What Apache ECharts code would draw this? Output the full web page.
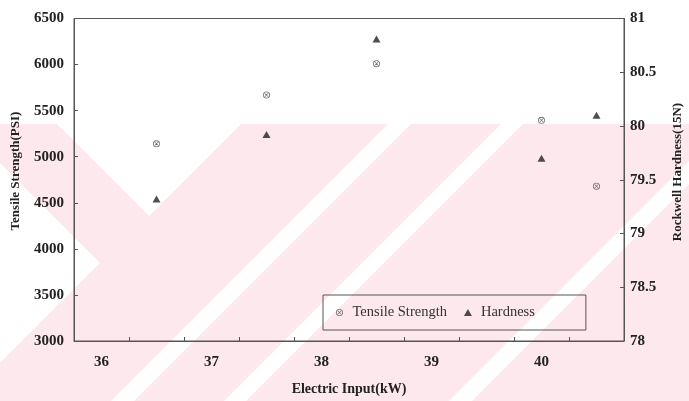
<!DOCTYPE html>
<html>
<head>
<meta charset="utf-8">
<script src="https://cdn.jsdelivr.net/npm/echarts@6/dist/echarts.min.js"></script>
<style>
  html, body { margin: 0; padding: 0; background: #fff; }
  #chart { width: 689px; height: 401px; }
</style>
</head>
<body>
<div id="chart"></div>
<script>
// Electric input (kW) for each weld sample
const kwInput = [36.5, 37.5, 38.5, 40.0, 40.5];
// Tensile strength (PSI), left axis
const tensileStrength = [5140, 5670, 6010, 5395, 4680];
// Rockwell hardness (15N), right axis
const hardness = [79.32, 79.92, 80.81, 79.70, 80.10];

// Axis ticks sit between the integer labels
const xTickValues = [36.25, 36.75, 37.25, 37.75, 38.25, 38.75, 39.25, 39.75, 40.25];
const xLabelValues = [36, 37, 38, 39, 40];

const serif = 'Liberation Serif, Times New Roman, serif';
const frameColor = '#555';
const textColor = '#222';
const pink = '#fde9ed';

// circle with an x inside
const crossCircle = 'path://M10,0 A10,10 0 1,1 9.99,0 Z M10,2.4 A7.6,7.6 0 1,0 10.01,2.4 Z ' +
  'M4.2,5.6 L5.6,4.2 L15.8,14.4 L14.4,15.8 Z M14.4,4.2 L15.8,5.6 L5.6,15.8 L4.2,14.4 Z';

// light background stripes
function band(a, b) {
  return [[a - 124, 124], [b - 124, 124], [b - 401, 401], [a - 401, 401]];
}
const bgShapes = [
  { type: 'rect', shape: { x: 0, y: 124, width: 689, height: 277 }, style: { fill: pink } },
  { type: 'polygon', shape: { points: [[57, 124], [241, 124], [149, 216]] }, style: { fill: '#fff' } },
  { type: 'polygon', shape: { points: [[0, 163], [100, 263], [0, 363]] }, style: { fill: '#fff' } },
  { type: 'polygon', shape: { points: band(512, 535) }, style: { fill: '#fff' } },
  { type: 'polygon', shape: { points: band(625, 647) }, style: { fill: '#fff' } },
  { type: 'polygon', shape: { points: band(850, 873) }, style: { fill: '#fff' } }
].map(s => Object.assign({ silent: true, z: -10 }, s));

const plainNumber = v => String(v);

const chart = echarts.init(document.getElementById('chart'), null, { renderer: 'canvas' });

chart.setOption({
  animation: false,
  backgroundColor: '#fff',
  grid: {
    left: 74, right: 65, top: 18.5, bottom: 55.5,
    show: true, borderColor: frameColor, borderWidth: 1, backgroundColor: 'transparent'
  },
  legend: {
    left: 323, top: 295,
    padding: [10, 51, 10, 13],
    borderColor: frameColor, borderWidth: 1,
    itemWidth: 8, itemHeight: 7, itemGap: 17,
    textStyle: { fontFamily: serif, fontSize: 14.5, color: '#333', padding: [0, 0, 0, 4] },
    data: ['Tensile Strength', 'Hardness']
  },
  xAxis: {
    type: 'value', min: 35.75, max: 40.75,
    name: 'Electric Input(kW)', nameLocation: 'middle', nameGap: 41,
    nameTextStyle: { fontFamily: serif, fontSize: 14, fontWeight: 'bold', color: textColor },
    axisLine: { show: true, lineStyle: { color: frameColor, width: 1 } },
    axisTick: { show: true, inside: true, length: 4, customValues: xTickValues, lineStyle: { color: frameColor } },
    axisLabel: { customValues: xLabelValues, margin: 14, formatter: plainNumber,
                 fontFamily: serif, fontSize: 15, fontWeight: 'bold', color: textColor },
    splitLine: { show: false }
  },
  yAxis: [
    {
      type: 'value', min: 3000, max: 6500, interval: 500, position: 'left',
      axisLine: { show: true, lineStyle: { color: frameColor, width: 1 } },
      axisTick: { show: true, inside: true, length: 4, lineStyle: { color: frameColor } },
      axisLabel: { margin: 10, formatter: plainNumber,
                   fontFamily: serif, fontSize: 15, fontWeight: 'bold', color: textColor },
      splitLine: { show: false }
    },
    {
      type: 'value', min: 78, max: 81, interval: 0.5, position: 'right',
      axisLine: { show: true, lineStyle: { color: frameColor, width: 1 } },
      axisTick: { show: true, inside: true, length: 4, lineStyle: { color: frameColor } },
      axisLabel: { margin: 6, formatter: plainNumber,
                   fontFamily: serif, fontSize: 15, fontWeight: 'bold', color: textColor },
      splitLine: { show: false }
    }
  ],
  graphic: bgShapes.concat([
    {
      type: 'text', x: 16, y: 171, rotation: Math.PI / 2, silent: true,
      style: { text: 'Tensile Strength(PSI)', fontFamily: serif, fontSize: 13, fontWeight: 'bold',
               fill: textColor, align: 'center', verticalAlign: 'middle' }
    },
    {
      type: 'text', x: 678, y: 172, rotation: Math.PI / 2, silent: true,
      style: { text: 'Rockwell Hardness(15N)', fontFamily: serif, fontSize: 13, fontWeight: 'bold',
               fill: textColor, align: 'center', verticalAlign: 'middle' }
    }
  ]),
  series: [
    {
      name: 'Tensile Strength', type: 'scatter', yAxisIndex: 0,
      symbol: crossCircle, symbolSize: 7, symbolKeepAspect: true,
      itemStyle: { color: '#555' },
      data: kwInput.map((x, i) => [x, tensileStrength[i]])
    },
    {
      name: 'Hardness', type: 'scatter', yAxisIndex: 1,
      symbol: 'triangle', symbolSize: [8, 7],
      itemStyle: { color: '#222' },
      data: kwInput.map((x, i) => [x, hardness[i]])
    }
  ]
});
</script>
</body>
</html>
